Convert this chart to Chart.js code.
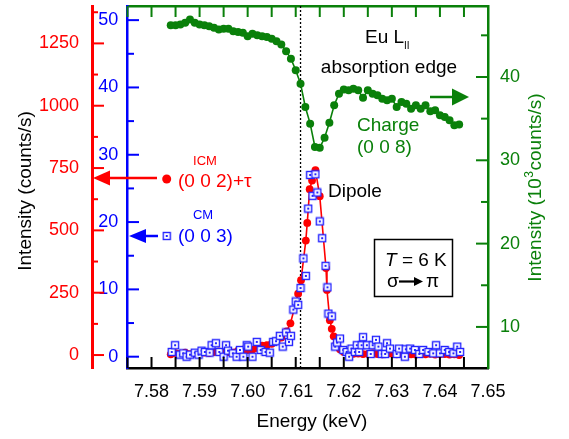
<!DOCTYPE html>
<html>
<head>
<meta charset="utf-8">
<script src="https://cdn.jsdelivr.net/npm/chart.js@4.4.0/dist/chart.umd.min.js"></script>
<style>
  html, body { margin: 0; padding: 0; background: #fff; }
  #wrap { width: 569px; height: 439px; }
</style>
</head>
<body>
<div id="wrap"><canvas id="chart" width="569" height="439"></canvas></div>
<script>
// Tick labels
const energyTicks = [7.58, 7.59, 7.60, 7.61, 7.62, 7.63, 7.64, 7.65];
const redTicks = [0, 250, 500, 750, 1000, 1250];
const blueTicks = [0, 10, 20, 30, 40, 50];
const greenTicks = [10, 20, 30, 40];

// Charge (0 0 8), right axis, 10^3 counts/s
const chargeE = [
  7.584, 7.585, 7.586, 7.587, 7.588, 7.589, 7.590, 7.591, 7.592, 7.593,
  7.594, 7.595, 7.596, 7.597, 7.598, 7.599, 7.600, 7.601, 7.602, 7.603,
  7.604, 7.605, 7.606, 7.607, 7.608, 7.609, 7.610, 7.611, 7.612, 7.613,
  7.614, 7.615, 7.616, 7.617, 7.618, 7.619, 7.620, 7.621, 7.622, 7.623,
  7.624, 7.625, 7.626, 7.627, 7.628, 7.629, 7.630, 7.631, 7.632, 7.633,
  7.634, 7.635, 7.636, 7.637, 7.638, 7.639, 7.640, 7.641, 7.642, 7.643,
  7.644
];
const chargeI = [
  46.2, 46.2, 46.3, 46.5, 46.9, 46.5, 46.3, 46.2, 46.1, 45.9,
  45.7, 45.8, 45.8, 45.5, 45.4, 45.3, 44.9, 45.2, 45.0, 44.9,
  44.8, 44.6, 44.3, 43.9, 43.1, 42.2, 40.8, 39.2, 36.4, 34.4,
  31.6, 31.5, 32.7, 34.5, 36.6, 38.0, 38.5, 38.4, 38.6, 38.4,
  37.5, 38.4, 38.0, 37.8, 37.4, 37.2, 37.4, 36.4, 37.0, 36.8,
  36.2, 36.6, 36.2, 36.6, 35.9, 36.0, 35.4, 35.2, 34.8, 34.2,
  34.3
];

// ICM (0 0 2)+tau, red axis, counts/s
const icmE = [
  7.584, 7.585, 7.586, 7.587, 7.588, 7.589, 7.590, 7.591, 7.592, 7.593,
  7.594, 7.595, 7.596, 7.597, 7.598, 7.599, 7.600, 7.601, 7.602, 7.603,
  7.604, 7.605, 7.606, 7.607,
  7.6081, 7.6089, 7.6105, 7.6111, 7.6121, 7.6124, 7.6129, 7.6134, 7.6141, 7.6150,
  7.6163, 7.6165, 7.6171, 7.6175, 7.6179, 7.6185, 7.6192,
  7.620, 7.621, 7.622, 7.623, 7.624, 7.625, 7.626, 7.627, 7.628, 7.629,
  7.630, 7.631, 7.632, 7.633, 7.634, 7.635, 7.636, 7.637, 7.638, 7.639,
  7.640, 7.641, 7.642, 7.643, 7.644
];
const icmI = [
  3, 8, 6, 10, 4, 6, 8, 10, 8, 12,
  15, 10, 12, 10, 18, 22, 20, 22, 28, 38,
  40, 45, 55, 70,
  95, 127, 246, 300, 459, 530, 665, 700, 742, 637,
  349, 261, 140, 105, 75, 47, 23,
  12, 8, 5, 6, 4, 5, 8, 4, 3, 5,
  6, 3, 4, 2, 3, 2, 4, 3, 5, 2,
  3, 4, 2, 3, 0
];

// CM (0 0 3), blue axis, counts/s
const cmE = [
  7.5842, 7.5849, 7.5859, 7.5866, 7.5873, 7.5880, 7.5890, 7.5898, 7.5904, 7.5911,
  7.5921, 7.5925, 7.5934, 7.5941, 7.5950, 7.5955, 7.5959, 7.5969, 7.5977, 7.5984,
  7.5991, 7.5998, 7.6001, 7.6010, 7.6019, 7.6027, 7.6037, 7.6046, 7.6053, 7.6059,
  7.6067, 7.6073, 7.6080, 7.6086, 7.6090, 7.6095, 7.6100, 7.6105, 7.6110, 7.6116,
  7.6121, 7.6126, 7.6130, 7.6135, 7.6141, 7.6145, 7.6150, 7.6155, 7.6162, 7.6166,
  7.6168, 7.6175, 7.6182, 7.6186, 7.6192, 7.6199, 7.6206, 7.6211, 7.6216, 7.6223,
  7.6227, 7.6232, 7.6237, 7.6240, 7.6248, 7.6256, 7.6260, 7.6267, 7.6272, 7.6279,
  7.6286, 7.6290, 7.6296, 7.6310, 7.6315, 7.6327, 7.6329, 7.6338, 7.6348, 7.6357,
  7.6365, 7.6376, 7.6386, 7.6392, 7.6400, 7.6410, 7.6419, 7.6428, 7.6436, 7.6442
];
const cmI = [
  0.7, 1.7, 0.3, 0.5, 0.0, 0.3, 0.6, 0.3, 0.9, 0.7,
  0.6, 1.7, 2.0, 0.7, 0.0, 1.7, 0.9, 0.5, 0.0, 1.0,
  0.0, 1.7, 1.5, 0.0, 2.2, 1.0, 0.7, 0.6, 2.2, 2.3,
  3.1, 1.5, 3.6, 2.2, 3.1, 7.0, 8.2, 7.7, 10.2, 14.6,
  12.0, 22.0, 27.0, 23.9, 27.1, 24.4, 20.1, 17.6, 13.5, 10.3,
  6.4, 6.0, 1.5, 2.1, 2.7, 1.0, 0.7, 0.0, 1.2, 0.7,
  1.7, 0.7, 1.7, 2.9, 1.7, 0.4, 1.7, 2.5, 1.5, 0.4,
  0.4, 2.0, 1.2, 0.4, 1.2, 0.0, 1.1, 1.2, 1.0, 0.4,
  1.0, 0.7, 0.5, 1.7, 0.5, 1.0, 0.7, 0.5, 1.5, 0.7
];

const edgeEnergy = 7.611; // dotted line

const RED = '#ff0000', BLUE = '#0000ff', GREEN = '#0a800a';
const FONT = '"Liberation Sans", Arial, sans-serif';
Chart.defaults.font.family = FONT;

const toPts = (xs, ys) => xs.map((x, i) => ({ x, y: ys[i] }));

// open square with a dot in the middle
function makeSquare() {
  const c = document.createElement('canvas');
  c.width = 10; c.height = 10;
  const g = c.getContext('2d');
  g.fillStyle = '#fff';
  g.fillRect(1.5, 1.5, 7, 7);
  g.strokeStyle = '#2424ff';
  g.lineWidth = 1.4;
  g.strokeRect(1.5, 1.5, 7, 7);
  g.fillStyle = '#2424ff';
  g.fillRect(4, 4, 2, 2);
  return c;
}
const squareImg = makeSquare();

function minorsOf(ticks, min, max) {
  const step = ticks[1] - ticks[0];
  const out = [ticks[0] - step / 2].concat(ticks.map(v => v + step / 2));
  return out.filter(v => v > min + 1e-9 && v < max - 1e-9);
}

function drawMarks(ctx, scale, values, len, color, side) {
  ctx.save();
  ctx.strokeStyle = color;
  ctx.lineWidth = 2;
  values.forEach(v => {
    if (v <= scale.min + 1e-9 || v >= scale.max - 1e-9) return;
    const p = scale.getPixelForValue(v);
    ctx.beginPath();
    if (side === 'bottom') { ctx.moveTo(p, scale.top); ctx.lineTo(p, scale.top - len); }
    if (side === 'top') { ctx.moveTo(p, scale.bottom); ctx.lineTo(p, scale.bottom + len); }
    if (side === 'left') { ctx.moveTo(scale.right, p); ctx.lineTo(scale.right + len, p); }
    if (side === 'right') { ctx.moveTo(scale.left, p); ctx.lineTo(scale.left - len, p); }
    ctx.stroke();
  });
  ctx.restore();
}

function arrow(ctx, x0, x1, y, color, headLen, half) {
  const dir = x1 > x0 ? 1 : -1;
  ctx.save();
  ctx.strokeStyle = color; ctx.fillStyle = color; ctx.lineWidth = 2.5;
  ctx.beginPath(); ctx.moveTo(x0, y); ctx.lineTo(x1 - dir * headLen, y); ctx.stroke();
  ctx.beginPath();
  ctx.moveTo(x1, y);
  ctx.lineTo(x1 - dir * headLen, y - half);
  ctx.lineTo(x1 - dir * headLen, y + half);
  ctx.closePath(); ctx.fill();
  ctx.restore();
}

function text(ctx, s, x, y, color, size, opts = {}) {
  ctx.save();
  ctx.fillStyle = color;
  ctx.font = (opts.italic ? 'italic ' : '') + size + 'px ' + FONT;
  ctx.textAlign = opts.align || 'left';
  ctx.textBaseline = 'alphabetic';
  ctx.fillText(s, x, y);
  const w = ctx.measureText(s).width;
  ctx.restore();
  return w;
}

const decor = {
  id: 'decor',
  beforeDatasetsDraw(chart) {
    const { ctx, chartArea } = chart;
    const x = chart.scales.x.getPixelForValue(edgeEnergy);
    ctx.save();
    ctx.strokeStyle = '#000';
    ctx.lineWidth = 1.3;
    ctx.setLineDash([2, 2]);
    ctx.beginPath(); ctx.moveTo(x, chartArea.top); ctx.lineTo(x, chartArea.bottom); ctx.stroke();
    ctx.restore();
  },
  afterDraw(chart) {
    const { ctx } = chart;
    const s = chart.scales;

    // inward tick marks
    drawMarks(ctx, s.x, energyTicks.concat(minorsOf(energyTicks, s.x.min, s.x.max)), 11, '#000', 'bottom');
    drawMarks(ctx, s.x2, energyTicks.concat(minorsOf(energyTicks, s.x.min, s.x.max)), 11, GREEN, 'top');
    drawMarks(ctx, s.yRed, redTicks, 12, RED, 'left');
    drawMarks(ctx, s.yRed, minorsOf(redTicks, s.yRed.min, s.yRed.max), 6, RED, 'left');
    drawMarks(ctx, s.yBlue, blueTicks, 12, BLUE, 'left');
    drawMarks(ctx, s.yBlue, minorsOf(blueTicks, s.yBlue.min, s.yBlue.max), 7, BLUE, 'left');
    drawMarks(ctx, s.yGreen, greenTicks, 12, GREEN, 'right');
    drawMarks(ctx, s.yGreen, minorsOf(greenTicks, s.yGreen.min, s.yGreen.max), 7, GREEN, 'right');

    // axis titles
    text(ctx, 'Energy (keV)', 312, 427, '#000', 19, { align: 'center' });
    ctx.save();
    ctx.translate(31, 191); ctx.rotate(-Math.PI / 2);
    text(ctx, 'Intensity (counts/s)', 0, 0, '#000', 19, { align: 'center' });
    ctx.restore();

    ctx.save();
    ctx.translate(541, 0); ctx.rotate(-Math.PI / 2);
    ctx.font = '19px ' + FONT;
    const a = 'Intensity (10', b = '3', c = 'counts/s)';
    const wa = ctx.measureText(a).width, wc = ctx.measureText(c).width;
    ctx.font = '12px ' + FONT;
    const wb = ctx.measureText(b).width + 1;
    let x0 = -187.5 - (wa + wb + wc) / 2;
    text(ctx, a, x0, 0, GREEN, 19);
    text(ctx, b, x0 + wa + 0.5, -8, GREEN, 12);
    text(ctx, c, x0 + wa + wb, 0, GREEN, 19);
    ctx.restore();

    // ICM label and arrow to the red axis
    text(ctx, 'ICM', 205, 165, RED, 13, { align: 'center' });
    text(ctx, '(0 0 2)+\u03c4', 178, 187, RED, 19);
    ctx.save();
    ctx.fillStyle = RED;
    ctx.beginPath(); ctx.arc(166.7, 179, 4.5, 0, Math.PI * 2); ctx.fill();
    ctx.restore();
    arrow(ctx, 157, s.yRed.right + 1, 178, RED, 17, 7.5);

    // CM label and arrow to the blue axis
    text(ctx, 'CM', 203, 219, BLUE, 13, { align: 'center' });
    text(ctx, '(0 0 3)', 178, 242, BLUE, 19);
    ctx.drawImage(squareImg, 166.7 - 5, 236 - 5);
    arrow(ctx, 158, s.yBlue.right + 2, 236, BLUE, 17, 7);

    // Dipole
    text(ctx, 'Dipole', 328, 197, '#000', 19);

    // Eu L_II absorption edge
    const wEu = text(ctx, 'Eu L', 365, 43, '#000', 19);
    text(ctx, 'II', 365 + wEu, 49, '#000', 10);
    text(ctx, 'absorption edge', 389, 73, '#000', 19, { align: 'center' });

    // Charge (0 0 8) and arrow to the right axis
    text(ctx, 'Charge', 357, 131, GREEN, 19);
    text(ctx, '(0 0 8)', 357, 153, GREEN, 19);
    arrow(ctx, 430, 469, 97, GREEN, 17, 8.5);

    // T = 6 K box
    ctx.save();
    ctx.strokeStyle = '#000'; ctx.lineWidth = 1.5;
    ctx.strokeRect(374.5, 239.5, 78, 57);
    ctx.restore();
    const wT = text(ctx, 'T', 385, 266, '#000', 19, { italic: true });
    text(ctx, ' = 6 K', 385 + wT, 266, '#000', 19);
    text(ctx, '\u03c3', 387, 287, '#000', 19);
    ctx.save();
    ctx.strokeStyle = '#000'; ctx.fillStyle = '#000'; ctx.lineWidth = 2.2;
    ctx.beginPath(); ctx.moveTo(399, 281.5); ctx.lineTo(416, 281.5); ctx.stroke();
    ctx.beginPath(); ctx.moveTo(423, 281.5); ctx.lineTo(414, 277); ctx.lineTo(414, 286); ctx.closePath(); ctx.fill();
    ctx.restore();
    text(ctx, '\u03c0', 426, 287, '#000', 19);
  }
};

const hidden = { display: false, drawTicks: false };
const plain = v => String(v);

// fixed box sizes, no extra label padding
const fixH = h => sc => { sc.height = h; sc.paddingLeft = 0; sc.paddingRight = 0; sc.paddingTop = 0; sc.paddingBottom = 0; };
const fixW = w => sc => { sc.width = w; sc.paddingLeft = 0; sc.paddingRight = 0; sc.paddingTop = 0; sc.paddingBottom = 0; };

new Chart(document.getElementById('chart'), {
  type: 'scatter',
  data: {
    datasets: [
      {
        label: 'CM (0 0 3)',
        data: toPts(cmE, cmI),
        xAxisID: 'x', yAxisID: 'yBlue',
        showLine: false,
        pointStyle: squareImg,
        pointRadius: 4.5
      },
      {
        label: 'ICM (0 0 2)+tau',
        data: toPts(icmE, icmI),
        xAxisID: 'x', yAxisID: 'yRed',
        showLine: true,
        borderColor: RED, borderWidth: 1.6,
        pointRadius: 3.9, pointBorderWidth: 0,
        pointBackgroundColor: RED
      },
      {
        label: 'Charge (0 0 8)',
        data: toPts(chargeE, chargeI),
        xAxisID: 'x', yAxisID: 'yGreen',
        showLine: true,
        borderColor: GREEN, borderWidth: 1.6,
        pointRadius: 4, pointBorderWidth: 0,
        pointBackgroundColor: GREEN
      }
    ]
  },
  options: {
    responsive: false,
    animation: false,
    devicePixelRatio: 1,
    layout: { padding: { top: 6, left: 0, right: 0, bottom: 0 } },
    plugins: { legend: { display: false }, tooltip: { enabled: false } },
    scales: {
      x: {
        type: 'linear', position: 'bottom',
        min: 7.5749, max: 7.65,
        afterBuildTicks: sc => { sc.ticks = energyTicks.map(v => ({ value: v })); },
        afterFit: fixH(71),
        ticks: { color: '#000', font: { size: 18 }, padding: 13, maxRotation: 0, autoSkip: false,
                 callback: v => v.toFixed(2) },
        grid: hidden,
        border: { color: '#000', width: 2.5 }
      },
      x2: {
        type: 'linear', position: 'top',
        min: 7.5749, max: 7.65,
        afterFit: fixH(0),
        ticks: { display: false },
        grid: hidden,
        border: { color: GREEN, width: 2.5 }
      },
      yRed: {
        type: 'linear', position: 'left', weight: 2,
        min: -52, max: 1400,
        afterBuildTicks: sc => { sc.ticks = redTicks.map(v => ({ value: v })); },
        afterFit: fixW(92),
        ticks: { color: RED, font: { size: 18 }, padding: 13, autoSkip: false, callback: plain },
        grid: hidden,
        border: { color: RED, width: 3 }
      },
      yBlue: {
        type: 'linear', position: 'left', weight: 1,
        min: -1.68, max: 52.1,
        afterBuildTicks: sc => { sc.ticks = blueTicks.map(v => ({ value: v })); },
        afterFit: fixW(35),
        ticks: { color: BLUE, font: { size: 18 }, padding: 8.7, autoSkip: false, callback: plain },
        grid: hidden,
        border: { color: BLUE, width: 2.5 }
      },
      yGreen: {
        type: 'linear', position: 'right',
        min: 5.07, max: 48.52,
        afterBuildTicks: sc => { sc.ticks = greenTicks.map(v => ({ value: v })); },
        afterFit: fixW(81),
        ticks: { color: GREEN, font: { size: 18 }, padding: 12, autoSkip: false, callback: plain },
        grid: hidden,
        border: { color: GREEN, width: 2.5 }
      }
    }
  },
  plugins: [decor]
});
</script>
</body>
</html>
